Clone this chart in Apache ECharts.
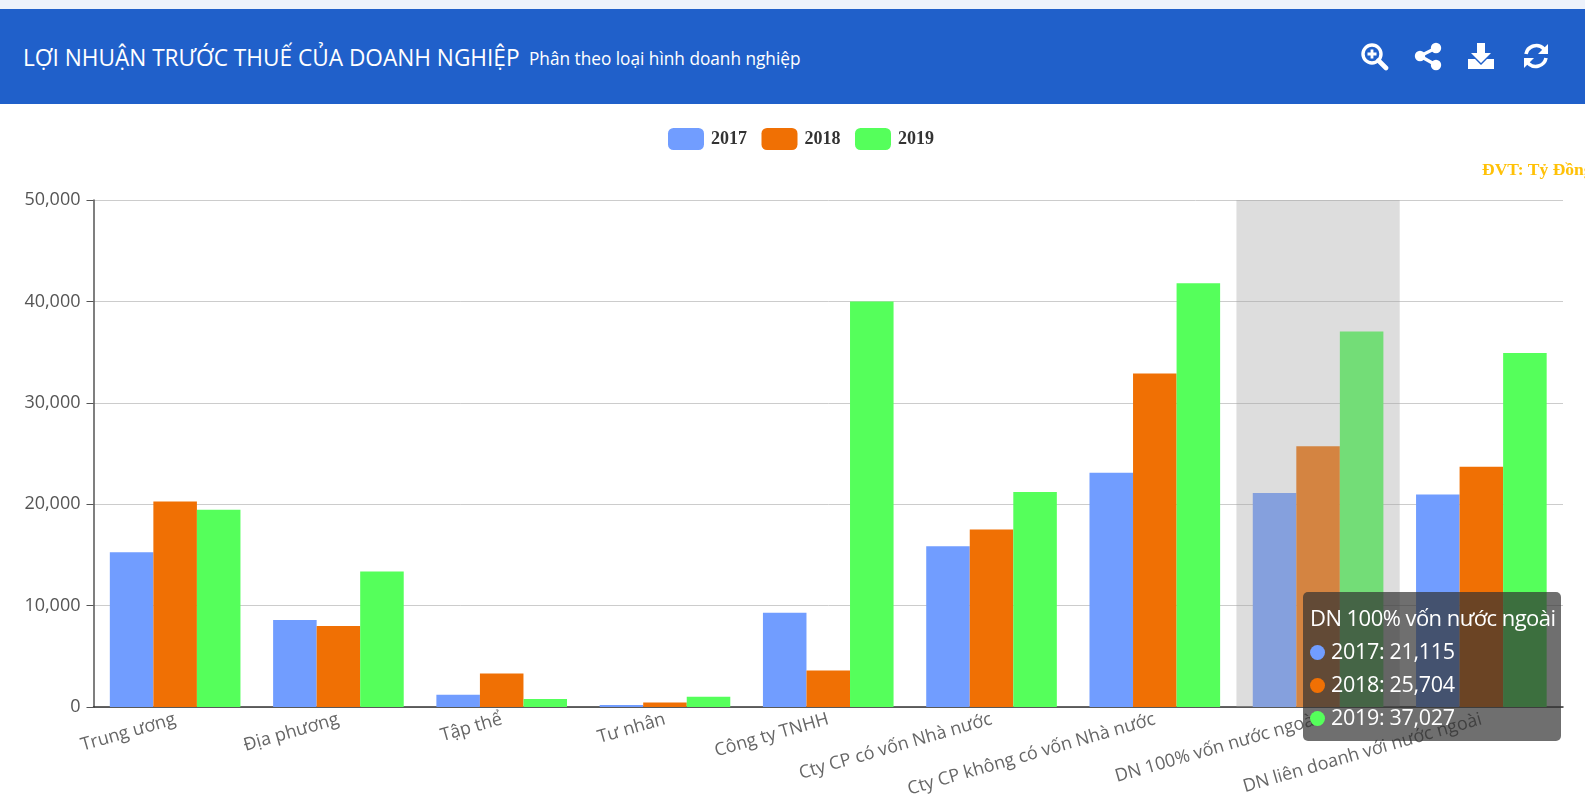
<!DOCTYPE html>
<html><head><meta charset="utf-8">
<script src="https://cdn.jsdelivr.net/npm/echarts@6/dist/echarts.min.js"></script>
<style>
html,body{margin:0;padding:0;background:#fff;overflow:hidden;width:1585px;height:812px}
#top{position:absolute;left:0;top:0;width:1585px;height:9px;background:#edf2fb}
#head{position:absolute;left:0;top:9px;width:1585px;height:95px;background:#2060ca;color:#fff;font-family:"Open Sans",sans-serif}
#t1{position:absolute;left:23px;top:33px;font-size:23px;line-height:30px;white-space:nowrap;transform-origin:0 50%;transform:scaleX(.984)}
#t2{position:absolute;left:529px;top:36px;font-size:18px;line-height:26px;white-space:nowrap;transform-origin:0 50%;transform:scaleX(.957)}
#head svg{position:absolute;top:32px;width:30px;height:30px}
#chart{position:absolute;left:0;top:0;width:1585px;height:812px}
</style></head><body>
<div id="chart"></div>
<div id="top"></div>
<div id="head">
<div id="t1">LỢI NHUẬN TRƯỚC THUẾ CỦA DOANH NGHIỆP</div>
<div id="t2">Phân theo loại hình doanh nghiệp</div>
<svg style="left:1359px" viewBox="0 0 30 30"><circle cx="13" cy="13" r="9" fill="none" stroke="#fff" stroke-width="3.4"/><path d="M19.5 19.5L27 27" stroke="#fff" stroke-width="4.6" stroke-linecap="round"/><path d="M13 8.5v9M8.5 13h9" stroke="#fff" stroke-width="2.8"/></svg>
<svg style="left:1413px" viewBox="0 0 30 30"><path d="M23 7L7 15L23 24" fill="none" stroke="#fff" stroke-width="3.2"/><circle cx="23" cy="7" r="5.2" fill="#fff"/><circle cx="7" cy="15" r="5.2" fill="#fff"/><circle cx="23" cy="24" r="5.2" fill="#fff"/></svg>
<svg style="left:1466px" viewBox="0 0 30 30"><path d="M11 2h8v10h6L15 22 5 12h6z" fill="#fff"/><path d="M2 18h7l6 6 6-6h7v10H2z" fill="#fff"/></svg>
<svg style="left:1521px" viewBox="0 0 30 30"><path d="M5 13A10.5 10.5 0 0 1 23 8" fill="none" stroke="#fff" stroke-width="3.6"/><path d="M27 3v10H17z" fill="#fff"/><path d="M25 17A10.5 10.5 0 0 1 7 22" fill="none" stroke="#fff" stroke-width="3.6"/><path d="M3 27V17h10z" fill="#fff"/></svg>
</div>
<script>
var categories = ["Trung ương","Địa phương","Tập thể","Tư nhân","Công ty TNHH","Cty CP có vốn Nhà nước","Cty CP không có vốn Nhà nước","DN 100% vốn nước ngoài","DN liên doanh với nước ngoài"];
var years = ["2017","2018","2019"];
var v2017 = [15270,8580,1200,200,9300,15850,23100,21115,20950];
var v2018 = [20260,8000,3300,450,3600,17500,32900,25704,23700];
var v2019 = [19460,13370,800,1000,40000,21200,41800,37027,34900];
var colors = ["#719dff","#f07004","#55ff5b"];
var unitLabel = "ĐVT: Tỷ Đồng";
var fmt = function(v){return String(v).replace(/\B(?=(\d{3})+$)/g,",");};
var chart = echarts.init(document.getElementById('chart'),null,{renderer:'canvas'});
var values = [v2017,v2018,v2019];
chart.setOption({
  animation:false,
  color:colors,
  textStyle:{fontFamily:'"Open Sans",sans-serif'},
  grid:{left:93.5,right:22,top:200,bottom:105,containLabel:false},
  legend:{top:123,left:663,itemWidth:36,itemHeight:22,itemGap:14.5,data:years,icon:'roundRect',
    textStyle:{fontFamily:'"Liberation Serif",serif',fontWeight:'bold',fontSize:18,color:'#333',padding:[0,0,0,2]}},
  tooltip:{trigger:'axis',transitionDuration:0,alwaysShowContent:true,position:[1303,592],
    backgroundColor:'rgba(50,50,50,0.7)',borderWidth:0,padding:[9,7,8,7],
    extraCssText:'box-shadow:none;border-radius:5px;width:244px;height:132px;',
    textStyle:{color:'#fff',fontSize:21.5,fontFamily:'"Open Sans",sans-serif'},
    axisPointer:{type:'shadow',z:10,shadowStyle:{color:'rgba(165,165,165,0.38)'}},
    formatter:function(ps){
      var s='<div style="line-height:33px;white-space:nowrap;font-size:22px;letter-spacing:-.55px">'+ps[0].axisValue+'</div>';
      ps.forEach(function(p){s+='<div style="line-height:33px;white-space:nowrap;letter-spacing:-.3px"><span style="display:inline-block;width:15px;height:15px;border-radius:50%;background:'+p.color+';margin-right:6px;vertical-align:-1px"></span>'+p.seriesName+': '+fmt(p.value)+'</div>';});
      return s;}},
  xAxis:{type:'category',data:categories,
    axisLine:{lineStyle:{color:'#333',width:1.5}},axisTick:{show:false},
    axisLabel:{rotate:16,interval:0,fontSize:18,color:'#666',margin:12}},
  yAxis:{type:'value',min:0,max:50000,interval:10000,
    axisLine:{show:true,lineStyle:{color:'#555',width:1.5}},
    axisTick:{show:true,length:7,lineStyle:{color:'#555'}},
    splitLine:{lineStyle:{color:'#ccc',width:1}},
    axisLabel:{fontSize:18,color:'#555',margin:13,formatter:function(v){return fmt(v);}}},
  graphic:[{type:'text',left:1482,top:161,silent:true,style:{text:unitLabel,fill:'#ffc107',font:'bold 17.5px "Liberation Serif",serif'}}],
  series:years.map(function(y,i){return {name:y,type:'bar',data:values[i],barGap:0,barCategoryGap:'20%',itemStyle:{borderRadius:0},emphasis:{disabled:true}};})
});
chart.dispatchAction({type:'showTip',seriesIndex:0,dataIndex:7});
</script>
</body></html>
